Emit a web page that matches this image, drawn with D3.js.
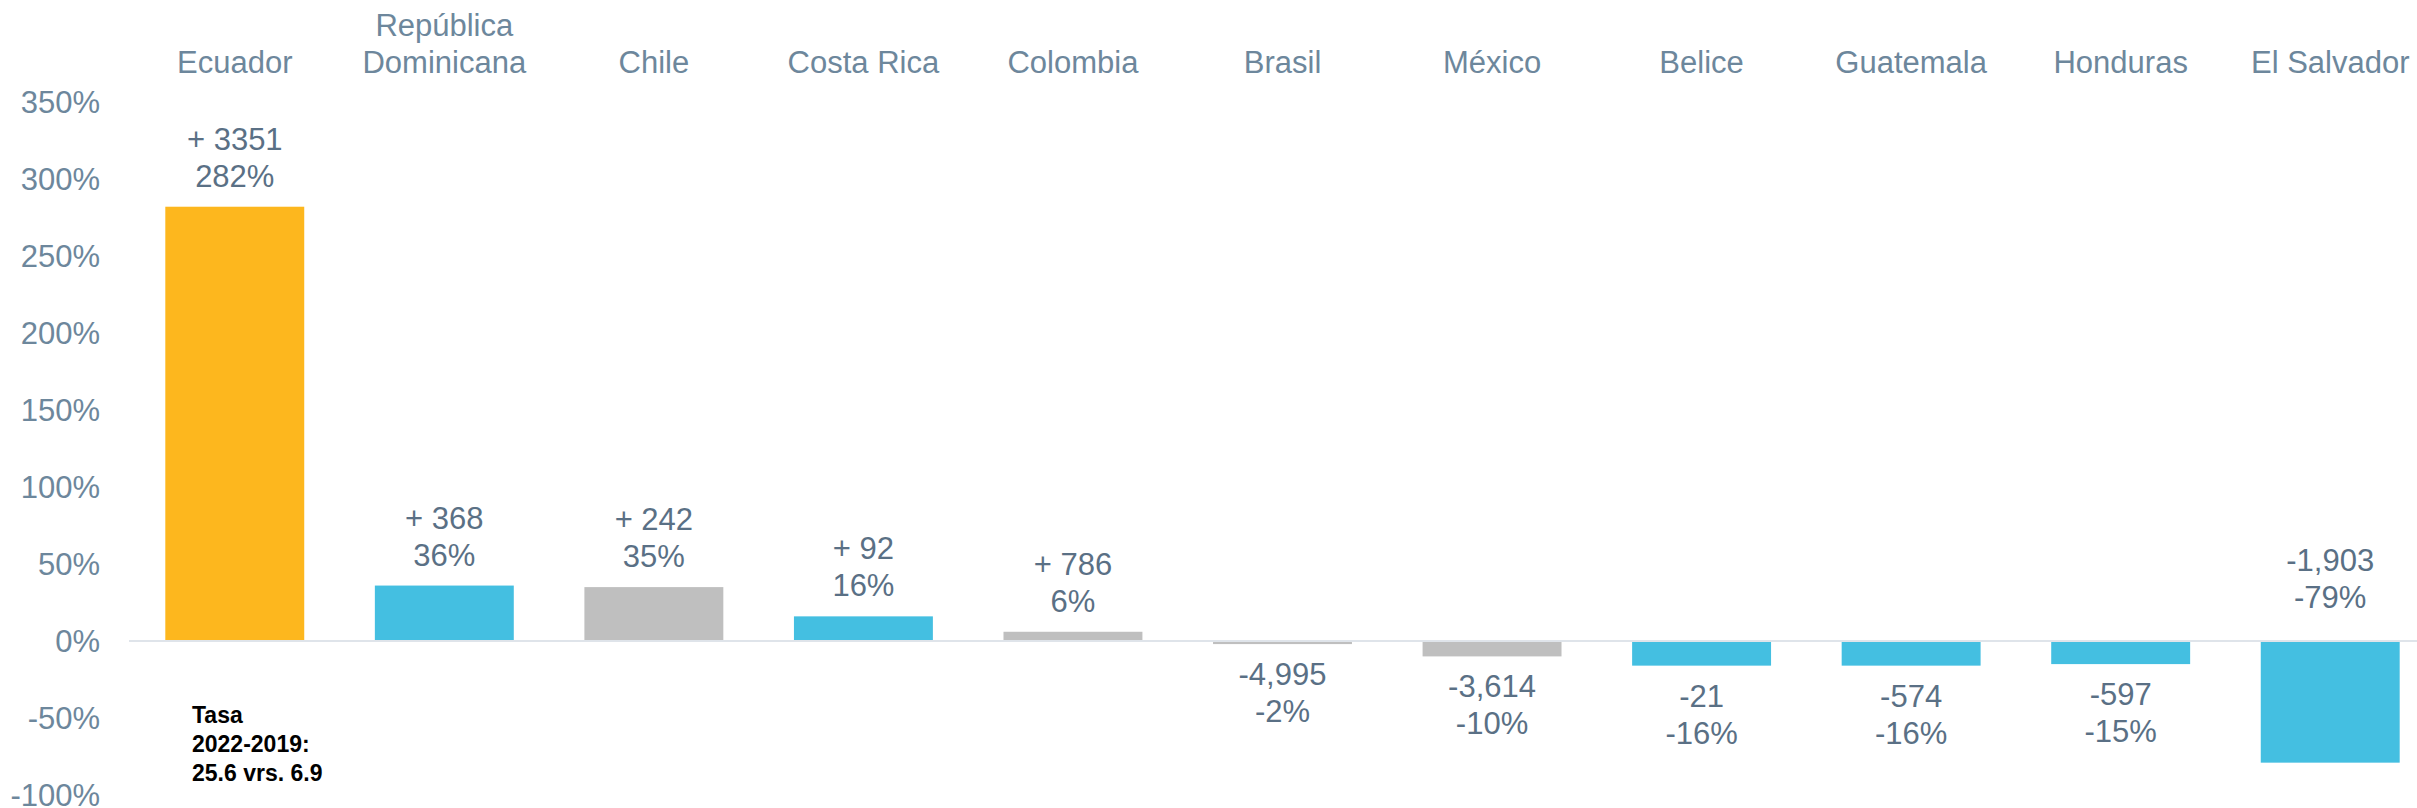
<!DOCTYPE html>
<html>
<head>
<meta charset="utf-8">
<script src="https://cdn.jsdelivr.net/npm/d3@7"></script>
<style>
  html, body { margin: 0; padding: 0; background: #fff; }
  svg text { font-family: "Liberation Sans", Arial, sans-serif; }
</style>
</head>
<body>
<main id="root"></main>
<script>
"use strict";

// countries, left to right
var paises = ['Ecuador', 'República Dominicana', 'Chile', 'Costa Rica', 'Colombia',
    'Brasil', 'México', 'Belice', 'Guatemala', 'Honduras', 'El Salvador'];

// % change 2022 vs 2019
var variacion = [282, 36, 35, 16, 6, -2, -10, -16, -16, -15, -79];

// absolute difference label
var diferencia = ['+ 3351', '+ 368', '+ 242', '+ 92', '+ 786', '-4,995', '-3,614',
    '-21', '-574', '-597', '-1,903'];

// bar colour group
var grupo = ['dest', 'ca', 'otro', 'ca', 'otro', 'otro', 'otro', 'ca', 'ca', 'ca', 'ca'];

var y_ticks = [-100, -50, 0, 50, 100, 150, 200, 250, 300, 350];

var nota = ['Tasa', '2022-2019:', '25.6 vrs. 6.9'];

var width = 2417;
var height = 808;

var colores = { dest: '#FDB71E', ca: '#44BFE1', otro: '#BFBFBF' };
var axis_color = '#6d879c';
var label_color = '#5a7085';

var svg = d3.select('main#root')
    .append('svg')
    .attr('width', width)
    .attr('height', height);

var x = d3.scaleBand()
    .domain( paises )
    .range( [130, 2435] )
    .paddingInner( 0.337 )
    .paddingOuter( 0.1685 );

var y = d3.scaleLinear()
    .domain( [-100, 350] )
    .range( [795, 102] );

var data = paises.map( function( p, i ) {
    return { pais: p, v: variacion[i], dif: diferencia[i], g: grupo[i] };
});

// y axis, labels only
var y_axis = svg.append('g')
    .attr('transform', 'translate(100,0)')
    .call( d3.axisLeft( y ).tickValues( y_ticks ).tickSize( 0 ).tickPadding( 0 )
        .tickFormat( function( d ) { return d + '%'; } ) );
y_axis.select('.domain').remove();
y_axis.selectAll('text')
    .attr('fill', axis_color)
    .style('font-size', '31px')
    .attr('dy', '0.35em');

// bars
svg.append('g').selectAll('rect')
    .data( data )
    .enter().append('rect')
    .attr('x', function( d ) { return x( d.pais ); })
    .attr('width', x.bandwidth())
    .attr('y', function( d ) { return y( Math.max( 0, d.v ) ); })
    .attr('height', function( d ) { return Math.abs( y( d.v ) - y( 0 ) ); })
    .attr('fill', function( d ) { return colores[ d.g ]; });

// zero line
svg.append('line')
    .attr('x1', 129).attr('x2', width)
    .attr('y1', y( 0 )).attr('y2', y( 0 ))
    .attr('stroke', '#dfe4ea')
    .attr('stroke-width', 2);

// category labels on top
var x_axis = svg.append('g')
    .attr('transform', 'translate(0,73)')
    .call( d3.axisTop( x ).tickSize( 0 ).tickPadding( 0 ) );
x_axis.select('.domain').remove();
x_axis.selectAll('text')
    .attr('fill', axis_color)
    .attr('dy', 0)
    .style('font-size', '31px')
    .each( function( d ) {
        var t = d3.select( this );
        var words = d.split(' ');
        if ( d === 'República Dominicana' ) {
            t.text( null );
            t.append('tspan').attr('x', 0).attr('dy', -37).text( words[0] );
            t.append('tspan').attr('x', 0).attr('dy', 37).text( words[1] );
        }
    });

// value labels
var labels = svg.append('g').selectAll('text')
    .data( data )
    .enter().append('text')
    .attr('text-anchor', 'middle')
    .attr('fill', label_color)
    .style('font-size', '31px')
    .attr('transform', function( d ) {
        var cx = x( d.pais ) + x.bandwidth() / 2;
        var base;
        if ( d.v >= 0 ) base = y( d.v ) - 57;
        else if ( d.v < -50 ) base = y( 0 ) - 70;   // long bar: label sits above the axis
        else base = y( d.v ) + 41;
        return 'translate(' + cx + ',' + base + ')';
    });
labels.append('tspan').attr('x', 0).attr('dy', 0).text( function( d ) { return d.dif; });
labels.append('tspan').attr('x', 0).attr('dy', 37).text( function( d ) { return d.v + '%'; });

// note
svg.append('text')
    .attr('transform', 'translate(192,723)')
    .attr('fill', '#000')
    .style('font-size', '23px')
    .style('font-weight', 'bold')
    .selectAll('tspan')
    .data( nota )
    .enter().append('tspan')
    .attr('x', 0)
    .attr('dy', function( d, i ) { return i === 0 ? 0 : 29; })
    .text( function( d ) { return d; });
</script>
</body>
</html>
